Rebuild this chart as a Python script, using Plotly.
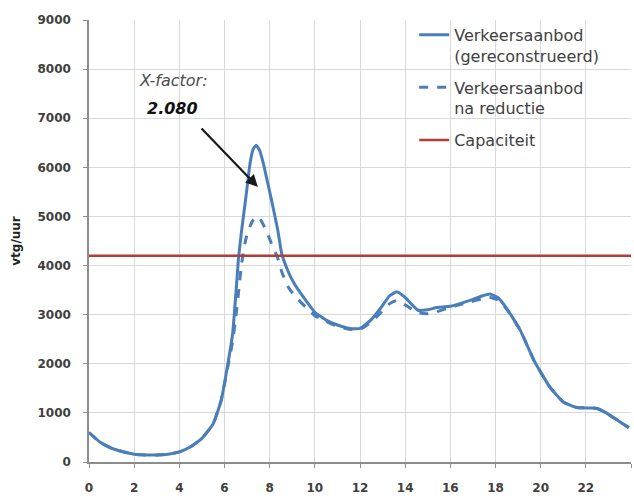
import plotly.graph_objects as go

# ---- data ----
hours = [0, 0.5, 1, 1.5, 2, 2.5, 3, 3.5, 4, 4.5,
         5, 5.5, 5.85, 6.15, 6.36, 6.5, 6.62, 6.76, 6.95, 7.13,
         7.27, 7.4, 7.55, 7.72, 7.88, 8.05, 8.36, 8.53, 8.8, 9.08,
         9.6, 10.0, 10.5, 11.0, 11.56, 12.0, 12.5, 12.9, 13.3, 13.63,
         14.0, 14.57, 15.0, 15.4, 16.0, 16.87, 17.4, 17.76, 18.1, 18.5,
         19.1, 19.7, 20.4, 21.0, 21.6, 22.2, 22.5, 22.9, 23.4, 23.9]

aanbod_gereconstrueerd = [600, 400, 280, 210, 160, 145, 143, 160, 205, 310,
                          480, 780, 1250, 2000, 2620, 3400, 4150, 4720, 5400, 6080,
                          6370, 6450, 6350, 6080, 5750, 5400, 4720, 4250, 3900, 3640,
                          3290, 3050, 2890, 2790, 2720, 2720, 2900, 3125, 3380, 3465,
                          3350, 3090, 3100, 3145, 3170, 3290, 3380, 3420, 3350, 3125,
                          2680, 2070, 1530, 1220, 1110, 1100, 1090, 1000, 850, 700]

aanbod_na_reductie = [600, 400, 280, 210, 160, 145, 143, 160, 205, 310,
                      480, 780, 1250, 1950, 2450, 2950, 3450, 4050, 4550, 4800,
                      4930, 5000, 4970, 4830, 4680, 4480, 4150, 3880, 3580, 3400,
                      3150, 2980, 2860, 2760, 2700, 2700, 2850, 3030, 3220, 3290,
                      3200, 3040, 3020, 3060, 3150, 3260, 3320, 3350, 3300, 3110,
                      2680, 2070, 1530, 1220, 1110, 1100, 1090, 1000, 850, 700]

capaciteit_x = [0, 24]
capaciteit = [4200, 4200]

x_tickvals = [0, 2, 4, 6, 8, 10, 12, 14, 16, 18, 20, 22, 24]
x_ticktext = ["0", "2", "4", "6", "8", "10", "12", "14", "16", "18", "20", "22", ""]

x_factor_label = "X-factor:"
x_factor_value = "2.080"

# ---- styling ----
BLUE = "#4a7ebb"
RED = "#b23c38"
GRID = "#d9d9d9"
AXIS = "#8c8c8c"
TXT = "#404040"

fig = go.Figure()
fig.add_trace(go.Scatter(
    x=hours, y=aanbod_gereconstrueerd, mode="lines",
    name="Verkeersaanbod<br>(gereconstrueerd)",
    line=dict(color=BLUE, width=3, shape="spline", smoothing=0.4),
    legendgroup="a"))
fig.add_trace(go.Scatter(
    x=hours, y=aanbod_na_reductie, mode="lines",
    name="Verkeersaanbod<br>na reductie",
    line=dict(color=BLUE, width=3, dash="dash", shape="spline", smoothing=0.4),
    legendgroup="b"))
fig.add_trace(go.Scatter(
    x=capaciteit_x, y=capaciteit, mode="lines",
    name="Capaciteit",
    line=dict(color=RED, width=2.5),
    legendgroup="c"))

fig.add_annotation(x=7.48, y=5600, ax=4.92, ay=6820, xref="x", yref="y",
                   axref="x", ayref="y", text="", showarrow=True,
                   arrowhead=2, arrowsize=1.1, arrowwidth=2.2, arrowcolor="#1a1a1a")
fig.add_annotation(x=3.72, y=7770, xref="x", yref="y",
                   text="<i>" + x_factor_label + "</i>",
                   showarrow=False,
                   font=dict(family="DejaVu Sans", size=16, color="#4d4d4d"))
fig.add_annotation(x=3.68, y=7200, xref="x", yref="y",
                   text="<b><i>" + x_factor_value + "</i></b>",
                   showarrow=False,
                   font=dict(family="DejaVu Sans", size=16, color="#111111"))

fig.update_layout(
    width=634, height=496,
    margin=dict(l=89, r=3, t=20, b=34, autoexpand=False),
    paper_bgcolor="white", plot_bgcolor="white",
    font=dict(family="DejaVu Sans", color=TXT),
    showlegend=True,
    legend=dict(x=0.6, y=1.005, xanchor="left", yanchor="top",
                bgcolor="rgba(0,0,0,0)", valign="top",
                tracegroupgap=8,
                font=dict(family="DejaVu Sans", size=16, color=TXT)),
)

fig.update_xaxes(range=[0, 24], tickvals=x_tickvals, ticktext=x_ticktext,
                 showgrid=True, gridcolor=GRID, gridwidth=1,
                 showline=True, linecolor=AXIS, linewidth=1.5,
                 ticks="outside", ticklen=4, tickcolor=AXIS,
                 ticklabelstandoff=10, zeroline=False, automargin=False,
                 tickfont=dict(family="DejaVu Sans", size=12, color=TXT, weight="bold"))
fig.update_yaxes(range=[0, 9000], dtick=1000,
                 showgrid=True, gridcolor=GRID, gridwidth=1,
                 showline=True, linecolor=AXIS, linewidth=1.5,
                 ticks="outside", ticklen=4, tickcolor=AXIS,
                 ticklabelstandoff=10, zeroline=False, automargin=False,
                 tickfont=dict(family="DejaVu Sans", size=12, color=TXT, weight="bold"),
                 title=dict(text="<b>vtg/uur</b>", standoff=14,
                            font=dict(family="DejaVu Sans", size=12, color="#222222")))

fig.write_html("out.html")
